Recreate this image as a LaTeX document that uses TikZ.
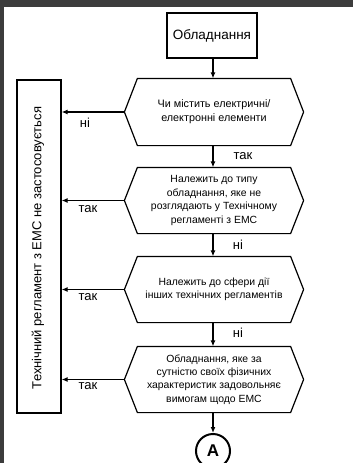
\documentclass[tikz,border=0pt]{standalone}
\usepackage{fontspec}
\setmainfont{Liberation Sans}
\usetikzlibrary{arrows.meta}
\begin{document}
\begin{tikzpicture}[x=1pt,y=-1pt,
  line width=1.2pt,
  arr/.style={-{Latex[length=6pt,width=5pt]}},
  hexnode/.style={inner sep=0pt,minimum width=178pt,minimum height=65pt,align=center,font=\fontsize{10.4}{13.4}\selectfont},
  lbl/.style={font=\fontsize{13}{15}\selectfont,inner sep=0pt},
  boxnode/.style={draw,inner sep=0pt}]
\useasboundingbox (0,0) rectangle (353,463);
\clip (0,0) rectangle (353,463);
\fill[fill={rgb,255:red,60;green,60;blue,60}] (0,0) rectangle (353,7);
\fill[fill={rgb,255:red,60;green,60;blue,60}] (0,0) rectangle (4,463);
% top box
\node[boxnode,minimum width=90pt,minimum height=45pt,font=\fontsize{13.5}{15}\selectfont] (start) at (212,35.5) {Обладнання};
% left box
\node[boxnode,minimum width=44pt,minimum height=333pt] (res) at (39,246.5) {};
\node[rotate=90,font=\fontsize{13}{15}\selectfont,inner sep=0pt] (restext) at (38,248) {Технічний регламент з ЕМС не застосовується};
% hexagons
\newcommand{\hexdraw}[1]{\draw (#1.west) -- ([xshift=13pt]#1.north west) -- ([xshift=-13pt]#1.north east) -- (#1.east) -- ([xshift=-13pt]#1.south east) -- ([xshift=13pt]#1.south west) -- cycle;}
\node[hexnode,minimum height=66pt,font=\fontsize{10.8}{14}\selectfont] (h1) at (214,112) {Чи містить електричні/\\електронні елементи};
\hexdraw{h1}
\node[hexnode] (h2) at (214,200.5) {Належить до типу\\обладнання, яке не\\розглядають у Технічному\\регламенті з ЕМС};
\hexdraw{h2}
\node[hexnode] (h3) at (214,289.5) {Належить до сфери дії\\інших технічних регламентів};
\hexdraw{h3}
\node[hexnode] (h4) at (214,379.5) {Обладнання, яке за\\сутністю своїх фізичних\\характеристик задовольняє\\вимогам щодо ЕМС};
\hexdraw{h4}
% circle
\node[draw,circle,line width=2pt,minimum size=34pt,inner sep=0pt,font=\fontsize{17}{17}\bfseries] (A) at (213,451) {A};
% vertical arrows
\draw[arr] (start.south -| 213,0) -- (h1.north -| 213,0);
\draw[arr] (h1.south -| 213,0) -- (h2.north -| 213,0);
\draw[arr] (h2.south -| 213,0) -- (h3.north -| 213,0);
\draw[arr] (h3.south -| 213,0) -- (h4.north -| 213,0);
\draw[arr] (h4.south -| 213,0) -- (A.north);
% horizontal arrows
\draw[arr] (h1.west) -- (h1.west -| res.east);
\draw[arr] (h2.west) -- (h2.west -| res.east);
\draw[arr] (h3.west) -- (h3.west -| res.east);
\draw[arr] (h4.west) -- (h4.west -| res.east);
% labels
\node[lbl] (l1) at (243,156) {так};
\node[lbl] (l2) at (238,245) {ні};
\node[lbl] (l3) at (238,333) {ні};
\node[lbl] (l4) at (85,123) {ні};
\node[lbl] (l5) at (88,209) {так};
\node[lbl] (l6) at (88,297) {так};
\node[lbl] (l7) at (88,386) {так};
\end{tikzpicture}
\end{document}
